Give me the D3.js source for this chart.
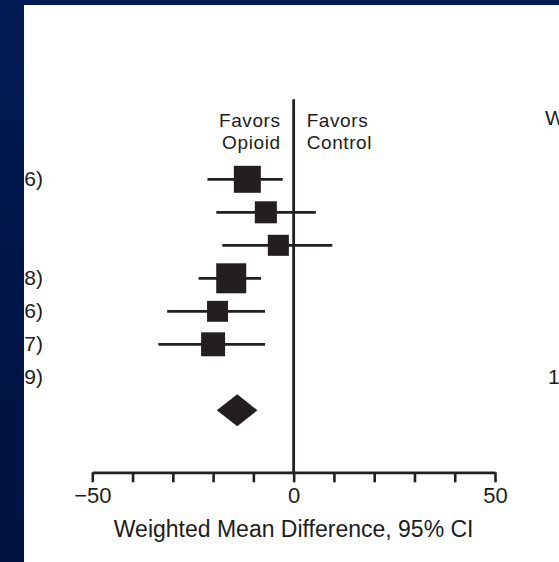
<!DOCTYPE html>
<html>
<head>
<meta charset="utf-8">
<script src="https://cdn.jsdelivr.net/npm/d3@7"></script>
<style>
    body { margin: 0; background: #001748; }
    svg { display: block; }
    text { font-family: "Liberation Sans", Arial, Helvetica, sans-serif; fill: #1c1c1c; }
</style>
</head>
<body>
<svg id="fig" width="559" height="562"></svg>
<script>
// study rows (names are cut off by the slide border, only the year end shows)
const studies = ["(2006)", "", "", "(1998)", "(1996)", "(2007)", "(2009)"];
const meanDiff = [-11.5, -6.9, -3.8, -15.5, -18.9, -20.0];
const ciLow    = [-21.4, -19.2, -17.7, -23.6, -31.4, -33.6];
const ciHigh   = [-2.7, 5.5, 9.6, -8.1, -7.1, -7.1];
const weights  = [20.4, 13.6, 12.4, 25.2, 12.3, 16.1];

// pooled estimate
const pooled = {mean: -14.0, low: -19.1, high: -9.0};
const totalWeight = "100.0";

const xTicks = d3.range(-50, 51, 10);
const xLabels = [-50, 0, 50];

const svg = d3.select("#fig");
const W = 559, H = 562;

// blue slide background with a white panel
const grad = svg.append("defs").append("linearGradient")
    .attr("id", "bg").attr("x1", 0).attr("y1", 0).attr("x2", 0).attr("y2", 1);
grad.append("stop").attr("offset", "0%").attr("stop-color", "#001a52");
grad.append("stop").attr("offset", "100%").attr("stop-color", "#00123f");
svg.append("rect").attr("width", W).attr("height", H).attr("fill", "url(#bg)");

svg.select("defs").append("clipPath").attr("id", "panelClip")
    .append("rect").attr("x", 24).attr("y", 5).attr("width", W - 24).attr("height", H - 5);

svg.append("rect")
    .attr("x", 24).attr("y", 5)
    .attr("width", W - 24).attr("height", H - 5)
    .attr("fill", "#ffffff");

const panel = svg.append("g").attr("clip-path", "url(#panelClip)");

// scales
const xScale = d3.scaleLinear().domain([-50, 50]).range([92.3, 495]);
const rowIdx = d3.range(studies.length + 1);
const yScale = d3.scalePoint().domain(rowIdx).range([179.3, 410.3]);
const sizeScale = d3.scaleSqrt().domain([0, d3.max(weights)]).range([0, 30]);

const ink = "#231f20";
const axisY = 472.3;

// line of no effect
panel.append("line")
    .attr("x1", xScale(0)).attr("x2", xScale(0))
    .attr("y1", 99.3).attr("y2", axisY)
    .attr("stroke", ink).attr("stroke-width", 2.8);

// confidence intervals
panel.selectAll(".ci")
    .data(meanDiff)
    .join("line")
    .attr("class", "ci")
    .attr("x1", (d, i) => xScale(ciLow[i]))
    .attr("x2", (d, i) => xScale(ciHigh[i]))
    .attr("y1", (d, i) => yScale(i))
    .attr("y2", (d, i) => yScale(i))
    .attr("stroke", ink).attr("stroke-width", 2.7);

// weighted squares
panel.selectAll(".sq")
    .data(meanDiff)
    .join("rect")
    .attr("class", "sq")
    .attr("x", (d, i) => xScale(d) - sizeScale(weights[i]) / 2)
    .attr("y", (d, i) => yScale(i) - sizeScale(weights[i]) / 2)
    .attr("width", (d, i) => sizeScale(weights[i]))
    .attr("height", (d, i) => sizeScale(weights[i]))
    .attr("fill", ink);

// pooled diamond
const dy = yScale(studies.length);
panel.append("path")
    .attr("d", `M${xScale(pooled.low)},${dy} L${xScale(pooled.mean)},${dy - 16} L${xScale(pooled.high)},${dy} L${xScale(pooled.mean)},${dy + 16} Z`)
    .attr("fill", ink);

// study labels on the left
panel.selectAll(".lab")
    .data(studies)
    .join("text")
    .attr("class", "lab")
    .attr("x", 43)
    .attr("y", (d, i) => yScale(i) + 7)
    .attr("text-anchor", "end")
    .style("font-size", "21px")
    .text(d => d);

// weight column on the right
panel.append("text")
    .attr("x", 545).attr("y", 125)
    .style("font-size", "21px")
    .text("Weight");
panel.append("text")
    .attr("x", 548).attr("y", yScale(studies.length - 1) + 7)
    .style("font-size", "21px")
    .text(totalWeight);

// favors header, two lines each side of the zero line
const hdr = [
    {t: ["Favors", "Opioid"], anchor: "end", off: -13},
    {t: ["Favors", "Control"], anchor: "start", off: 13}
];
hdr.forEach(h => {
    h.t.forEach((line, k) => {
        panel.append("text")
            .attr("x", xScale(0) + h.off)
            .attr("y", 127 + k * 22)
            .attr("text-anchor", h.anchor)
            .style("font-size", "19px")
            .style("letter-spacing", "0.6px")
            .text(line);
    });
});

// x axis
const axis = panel.append("g")
    .attr("transform", `translate(0,${axisY})`)
    .call(d3.axisBottom(xScale)
        .tickValues(xTicks)
        .tickSize(10)
        .tickSizeOuter(0)
        .tickFormat(d => xLabels.includes(d) ? d3.format("")(d) : ""));

axis.select(".domain").attr("stroke", ink).attr("stroke-width", 2.8);
axis.selectAll(".tick line").attr("stroke", ink).attr("stroke-width", 2.6);
axis.selectAll(".tick text")
    .attr("y", 31).attr("dy", 0)
    .style("font-size", "22px")
    .style("fill", "#1c1c1c")
    .style("font-family", "'Liberation Sans', Arial, sans-serif");

panel.append("text")
    .attr("x", xScale(0))
    .attr("y", 537)
    .attr("text-anchor", "middle")
    .style("font-size", "23px")
    .text("Weighted Mean Difference, 95% CI");
</script>
</body>
</html>
